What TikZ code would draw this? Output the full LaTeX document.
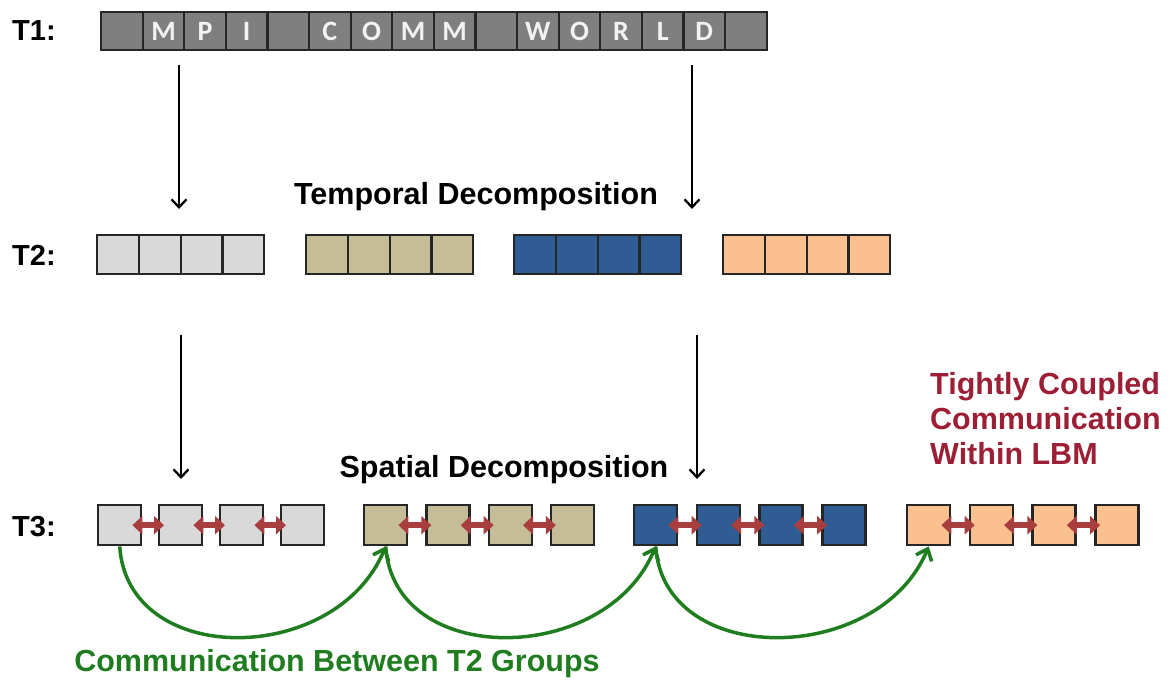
\documentclass[tikz,border=0pt]{standalone}
\usepackage{fontspec}
\setmainfont{Liberation Sans}
\newfontfamily\calibfont{Carlito}
\usetikzlibrary{arrows.meta}
\definecolor{tonegray}{HTML}{7F7F7F}
\definecolor{lgray}{HTML}{D9D9D9}
\definecolor{khaki}{HTML}{C4BD97}
\definecolor{dblue}{HTML}{2F5C93}
\definecolor{lorange}{HTML}{FAC090}
\definecolor{cellborder}{HTML}{262626}
\definecolor{linkred}{HTML}{A83E3E}
\definecolor{commgreen}{HTML}{1F7D1F}
\definecolor{textred}{HTML}{9C1F35}
\begin{document}
\begin{tikzpicture}[x=1pt,y=-1pt,
  tonecell/.style={draw=cellborder, line width=2.2pt, fill=tonegray, minimum width=41.6pt, minimum height=38pt, inner sep=0pt, anchor=north west, text=white!95!black, font=\calibfont\bfseries\fontsize{28}{28}\selectfont},
  ttwocell/.style={draw=cellborder, line width=2.4pt, minimum width=41.75pt, minimum height=39pt, inner sep=0pt, anchor=north west},
  tthreecell/.style={draw=cellborder, line width=2.4pt, minimum width=43pt, minimum height=40pt, inner sep=0pt, anchor=north west},
  rowlabel/.style={anchor=west, inner sep=0pt, font=\bfseries\fontsize{29}{29}\selectfont},
  headlabel/.style={inner sep=0pt, font=\bfseries\fontsize{30.5}{30.5}\selectfont},
  downarrow/.style={line width=2.3pt, -{Straight Barb[length=8pt,width=15pt]}},
  linkarrow/.style={draw=linkred, line width=6pt, {Triangle[length=10pt,width=18pt]}-{Triangle[length=10pt,width=18pt]}},
  commarrow/.style={draw=commgreen, line width=3.5pt, -{Straight Barb[length=10pt,width=17pt]}}
]
\useasboundingbox (0,0) rectangle (1172,685);

% row labels
\node[rowlabel] (lblone) at (12,31) {T1:};
\node[rowlabel] (lbltwo) at (12,255) {T2:};
\node[rowlabel] (lblthree) at (12,527) {T3:};

% T1 bar
\foreach \i/\l in {0/{},1/M,2/P,3/I,4/{},5/C,6/O,7/M,8/M,9/{},10/W,11/O,12/R,13/L,14/D,15/{}}
  \node[tonecell] (t1-\i) at ({100+\i*41.6},11) {\l};

% T2 groups
\foreach \g/\x/\c in {1/96/lgray,2/305/khaki,3/513/dblue,4/722/lorange}
  \foreach \j in {0,1,2,3}
    \node[ttwocell, fill=\c] (t2-\g-\j) at ({\x+\j*41.75},234) {};

% T3 groups
\foreach \g/\x/\c/\s in {1/97/lgray/61,2/363/khaki/62.3,3/633/dblue/62.7,4/906/lorange/62.7}
  \foreach \j in {0,1,2,3}
    \node[tthreecell, fill=\c] (t3-\g-\j) at ({\x+\j*\s},504) {};

% tightly coupled links
\foreach \g in {1,2,3,4}
  \foreach \j [count=\jj from 1] in {0,1,2}
    \draw[linkarrow] ([xshift=-10pt]t3-\g-\j.east) -- ([xshift=6pt]t3-\g-\jj.west);

% black decomposition arrows
\coordinate (aone) at (179,65);
\coordinate (aoneend) at (179,209);
\coordinate (atwo) at (692,65);
\coordinate (atwoend) at (692,209);
\coordinate (athree) at (181,335);
\coordinate (athreeend) at (181,479);
\coordinate (afour) at (697,335);
\coordinate (afourend) at (697,479);
\draw[downarrow] (aone) -- (aoneend);
\draw[downarrow] (atwo) -- (atwoend);
\draw[downarrow] (athree) -- (athreeend);
\draw[downarrow] (afour) -- (afourend);

% headings
\node[headlabel] (temporal) at (476,197) {Temporal Decomposition};
\node[headlabel] (spatial) at (504,470) {Spatial Decomposition};

% tightly coupled text
\node[anchor=north west, inner sep=0pt, align=left, text=textred, font=\bfseries\fontsize{30.5}{35}\selectfont] (tight) at (930,372) {Tightly Coupled\\Communication\\Within LBM};

% green communication arcs
\draw[commarrow] (t3-1-0.south) .. controls +(8,122) and +(-50,120) .. (t3-2-0.south);
\draw[commarrow] (t3-2-0.south) .. controls +(8,122) and +(-50,120) .. (t3-3-0.south);
\draw[commarrow] (t3-3-0.south) .. controls +(8,122) and +(-50,120) .. (t3-4-0.south);

\node[headlabel, text=commgreen] (commtext) at (337,664) {Communication Between T2 Groups};
\end{tikzpicture}
\end{document}
